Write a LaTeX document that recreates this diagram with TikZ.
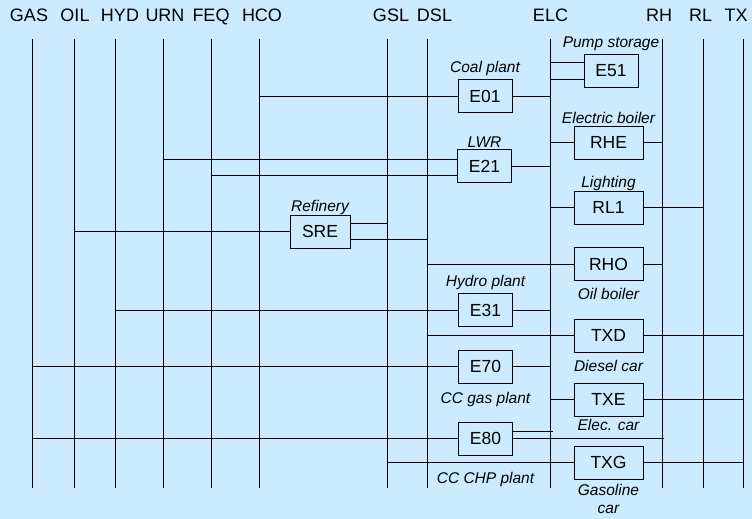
\documentclass[tikz,border=0pt]{standalone}
\usepackage{fontspec}
\setmainfont{Liberation Sans}
\usepackage{tikz}
\usetikzlibrary{positioning,calc}
\definecolor{Paper}{HTML}{CCEBFE}
\tikzset{
  bus/.style={line width=1pt},
  link/.style={line width=.9pt},
  proc/.style={draw,fill=Paper,line width=.9pt,minimum height=33pt,inner sep=0pt,font=\fontsize{17.5}{20}\selectfont},
  eproc/.style={proc,minimum width=54pt},
  dproc/.style={proc,minimum width=69pt},
  note/.style={inner sep=0pt,align=center,font=\fontsize{15.5}{18.3}\selectfont\itshape},
  carrier/.style={anchor=base,inner sep=0pt,font=\fontsize{18}{20}\selectfont}
}

\begin{document}
\begin{tikzpicture}[x=1pt,y=-1pt]
  \fill[Paper] (0,0) rectangle (752,519);
  \useasboundingbox (0,0) rectangle (752,519);
  % energy carriers
  \foreach \name/\x/\lx in {GAS/32/29,OIL/74.5/75,HYD/115/120,URN/163/165,FEQ/211/211,HCO/259/262,GSL/387/391,DSL/427/434.5,ELC/550/550.5,RH/662/659,RL/703/700.5,TX/743/736}{
    \coordinate (\name) at (\x,39);
    \coordinate (\name-end) at (\x,488);
    \draw[bus] (\name) -- (\name-end);
    \node[carrier] (\name-lbl) at (\lx,21.7) {\name};
  }
  % processes
  \node[eproc] (e51) at (611,70.5) {E51};
  \node[eproc] (e01) at (485,96) {E01};
  \node[eproc] (e21) at (484.5,166) {E21};
  \node[proc,minimum width=60pt] (sre) at (320,231.5) {SRE};
  \node[dproc] (rhe) at (608.5,142.5) {RHE};
  \node[dproc] (rl1) at (608.5,207.5) {RL1};
  \node[dproc] (rho) at (608.5,264) {RHO};
  \node[eproc] (e31) at (485.5,310) {E31};
  \node[dproc] (txd) at (608.5,335.5) {TXD};
  \node[eproc] (e70) at (485.5,366.5) {E70};
  \node[dproc] (txe) at (608.5,399.5) {TXE};
  \node[eproc] (e80) at (485.5,438.5) {E80};
  \node[dproc] (txg) at (608.5,462.5) {TXG};
  % captions
  \node[note,above=3pt of e51] {Pump storage};
  \node[note,above=3pt of e01] {Coal plant};
  \node[note,above=1pt of e21] {LWR};
  \node[note,above=0pt of sre] {Refinery};
  \node[note,above=2pt of rhe] {Electric boiler};
  \node[note,above=0pt of rl1] {Lighting};
  \node[note,above=3pt of e31] {Hydro plant};
  \node[note,below=7pt of rho] {Oil boiler};
  \node[note,below=8pt of txd] {Diesel car};
  \node[note,below=9pt of e70] {CC gas plant};
  \node[note,below=3pt of txe] {Elec. car};
  \node[note,below=17pt of e80] {CC CHP plant};
  \node[note,below=4.5pt of txg] {Gasoline\\car};
  % offset ports
  \coordinate[yshift=8.5pt] (e51a) at (e51.west);
  \coordinate[yshift=-8.5pt] (e51b) at (e51.west);
  \coordinate[yshift=7pt] (e21a) at (e21.west);
  \coordinate[yshift=-9pt] (e21b) at (e21.west);
  \coordinate[yshift=8.5pt] (srea) at (sre.east);
  \coordinate[yshift=-7.5pt] (sreb) at (sre.east);
  \coordinate[yshift=7.5pt] (e80a) at (e80.east);
  \coordinate[xshift=3pt] (e80elc) at (e80a -| ELC);
  \coordinate[xshift=2pt] (e80rh) at (e80 -| RH);
  % links
  \draw[link] (e51a) -- (e51a -| ELC);
  \draw[link] (e51b) -- (e51b -| ELC);
  \draw[link] (e01) -- (e01 -| HCO);
  \draw[link] (e01) -- (e01 -| ELC);
  \draw[link] (e21a) -- (e21a -| URN);
  \draw[link] (e21b) -- (e21b -| FEQ);
  \draw[link] (e21) -- (e21 -| ELC);
  \draw[link] (sre) -- (sre -| OIL);
  \draw[link] (srea) -- (srea -| GSL);
  \draw[link] (sreb) -- (sreb -| DSL);
  \draw[link] (rhe) -- (rhe -| ELC);
  \draw[link] (rhe) -- (rhe -| RH);
  \draw[link] (rl1) -- (rl1 -| ELC);
  \draw[link] (rl1) -- (rl1 -| RL);
  \draw[link] (rho) -- (rho -| DSL);
  \draw[link] (rho) -- (rho -| RH);
  \draw[link] (e31) -- (e31 -| HYD);
  \draw[link] (e31) -- (e31 -| ELC);
  \draw[link] (txd) -- (txd -| DSL);
  \draw[link] (txd) -- (txd -| TX);
  \draw[link] (e70) -- (e70 -| GAS);
  \draw[link] (e70) -- (e70 -| ELC);
  \draw[link] (txe) -- (txe -| ELC);
  \draw[link] (txe) -- (txe -| TX);
  \draw[link] (e80) -- (e80 -| GAS);
  \draw[link] (e80a) -- (e80elc);
  \draw[link] (e80) -- (e80rh);
  \draw[link] (txg) -- (txg -| GSL);
  \draw[link] (txg) -- (txg -| TX);
\end{tikzpicture}
\end{document}
